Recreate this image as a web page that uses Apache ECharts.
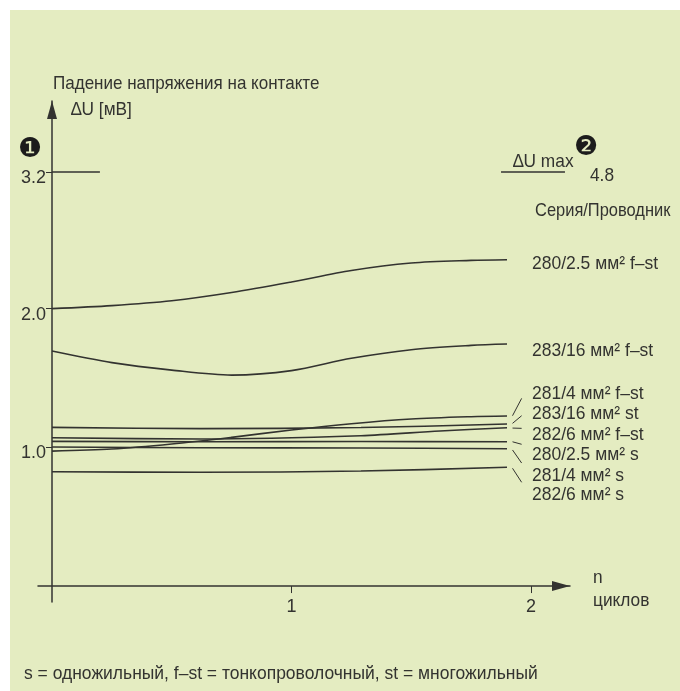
<!DOCTYPE html>
<html><head><meta charset="utf-8">
<style>html,body{margin:0;padding:0;background:#fff}#c{width:680px;height:691px}</style>
<script src="https://cdn.jsdelivr.net/npm/echarts@6/dist/echarts.min.js"></script>
</head><body><div id="c"></div>
<script>
const xTicks = [1, 2];
const yTicks = [1, 2, 3.2];
const curveNames = ['280/2.5 мм² f–st','283/16 мм² f–st','281/4 мм² f–st','283/16 мм² st','282/6 мм² f–st','280/2.5 мм² s','281/4 мм² s','282/6 мм² s'];
const s280fst = [[0,2.00],[0.25,2.022],[0.5,2.057],[0.75,2.116],[1,2.192],[1.25,2.275],[1.5,2.329],[1.75,2.348],[1.9,2.353]];
const s283fst = [[0,1.694],[0.25,1.611],[0.5,1.557],[0.75,1.521],[1,1.553],[1.25,1.642],[1.5,1.704],[1.75,1.735],[1.9,1.745]];
const s281fst = [[0,0.973],[0.25,0.988],[0.5,1.024],[0.75,1.072],[1,1.125],[1.25,1.17],[1.5,1.204],[1.75,1.221],[1.9,1.226]];
const s283st  = [[0,1.144],[0.62,1.135],[1.29,1.143],[1.9,1.168]];
const s282fst = [[0,1.069],[0.62,1.06],[1.29,1.084],[1.62,1.118],[1.9,1.141]];
const s280s   = [[0,1.043],[0.62,1.04],[1.29,1.042],[1.9,1.04]];
const s281s   = [[0,1.002],[0.62,0.997],[1.29,0.995],[1.9,0.99]];
const s282s   = [[0,0.824],[0.62,0.82],[1.29,0.829],[1.9,0.856]];
const curves = [s280fst,s283fst,s281fst,s283st,s282fst,s280s,s281s,s282s];
const limitLeft = [[0,3.2],[0.2,3.2]];
const limitRight = [[1.875,3.2],[2.142,3.2]];
const leaders = [
 [[1.923,1.228],[1.961,1.353]],
 [[1.923,1.173],[1.961,1.228]],
 [[1.923,1.139],[1.961,1.137]],
 [[1.923,1.04],[1.961,1.022]],
 [[1.923,0.981],[1.961,0.887]],
 [[1.923,0.849],[1.961,0.748]]
];
// The drawn y axis is compressed above 2.0: the 3.2 mark sits close to 3 on the linear part.
const yMap = v => v <= 2 ? v : 2 + (v - 2) * 0.8208;
const mapPts = pts => pts.map(p => [p[0], yMap(p[1])]);

const INK = '#333330', FONT = '"Liberation Sans",sans-serif', FS = 19;
const txt = (x, y, text, sx) => ({type:'text', x, y, scaleX:sx||0.91, silent:true,
  style:{text, fill:INK, font:FS+'px '+FONT, verticalAlign:'middle'}});
const glyph = (x, y, text) => ({type:'text', x, y, silent:true,
  style:{text, fill:'#1c1c1c', font:'27px "DejaVu Sans"', verticalAlign:'middle'}});
const labelRows = [264,351,393.7,413.7,434.3,454.3,475.3,495];

const series = [];
curves.forEach((d,i) => series.push({type:'line', name:curveNames[i], data:d, smooth:0.3, showSymbol:false, silent:true,
  lineStyle:{color:INK, width:1.6}}));
[limitLeft, limitRight].forEach(d => series.push({type:'line', data:mapPts(d), showSymbol:false, silent:true, lineStyle:{color:INK, width:1.3}}));
leaders.forEach(d => series.push({type:'line', data:d, showSymbol:false, silent:true, lineStyle:{color:INK, width:1}}));

const chart = echarts.init(document.getElementById('c'), null, {renderer:'canvas'});
chart.setOption({
  animation:false,
  backgroundColor:'#ffffff',
  grid:{left:38, right:110, top:101, bottom:89},
  xAxis:{type:'value', min:-0.0585, max:2.163, splitLine:{show:false},
    axisLine:{onZero:true, symbol:['none','triangle'], symbolSize:[10,18], symbolOffset:[0,-9], lineStyle:{color:INK, width:1.5}},
    axisTick:{customValues:xTicks, length:7, lineStyle:{color:INK, width:1}},
    axisLabel:{customValues:xTicks, margin:-4, color:INK, fontFamily:FONT, fontSize:18, formatter:v=>String(Math.round(v))}},
  yAxis:{type:'value', min:-0.115, max:3.497, splitLine:{show:false},
    axisLine:{onZero:true, symbol:['none','triangle'], symbolSize:[10,18], symbolOffset:[0,-9], lineStyle:{color:INK, width:1.5}},
    axisTick:{customValues:yTicks.map(yMap), length:6, lineStyle:{color:INK, width:1}},
    axisLabel:{customValues:yTicks.map(yMap), margin:-8, color:INK, fontFamily:FONT, fontSize:18, verticalAlign:'top', lineHeight:12,
      formatter:v=>{const t=yTicks.find(k=>Math.abs(yMap(k)-v)<0.01);return t===undefined?'':t.toFixed(1);}}},
  graphic:[
    {type:'rect', z:-10, silent:true, shape:{x:10,y:10,width:670,height:681}, style:{fill:'#e4ecc1'}},
    txt(53,84,'Падение напряжения на контакте',0.896),
    txt(71,110,'∆U [мВ]'),
    txt(513,162,'∆U max'),
    txt(590,176,'4.8'),
    txt(535,211,'Серия/Проводник',0.866),
    txt(593,578,'n'),
    txt(593,601,'циклов'),
    txt(24,674,'s = одножильный, f–st = тонкопроволочный, st = многожильный',0.92),
    glyph(18,150,'❶'),
    glyph(574,148,'❷')
  ].concat(curveNames.map((n,i)=>txt(532,labelRows[i],n,0.92))),
  series
});
</script></body></html>
